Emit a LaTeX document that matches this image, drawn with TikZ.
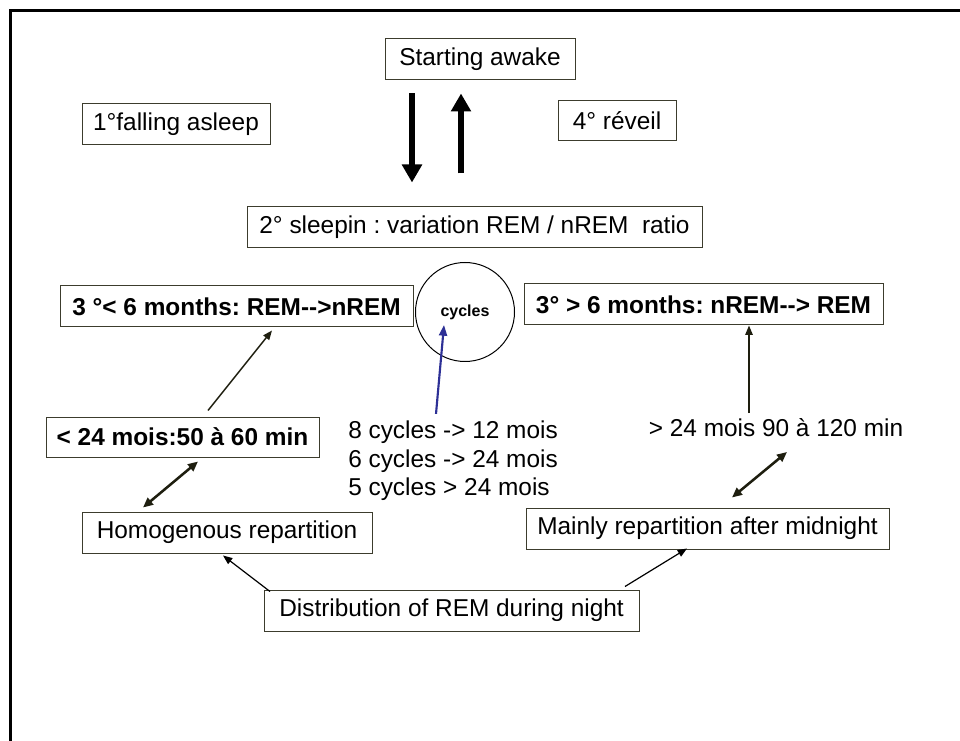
\documentclass[tikz,border=0pt]{standalone}
\usepackage{fontspec}
\setmainfont{Liberation Sans}[Ligatures=TeXOff]
\usetikzlibrary{arrows.meta,calc}
\definecolor{boxline}{RGB}{60,60,45}
\definecolor{arrowdark}{RGB}{30,30,15}
\definecolor{cycblue}{RGB}{45,48,150}
\frenchspacing
\begin{document}
\begin{tikzpicture}[x=0.75pt,y=-0.75pt,
  txt/.style={font=\fontsize{18.3}{21.4}\selectfont, text=black},
  bx/.style={txt, draw=boxline, line width=0.75pt, fill=white, inner sep=0pt, minimum height=30.75pt},
  bbx/.style={bx, font=\fontsize{18.3}{21.4}\selectfont\bfseries},
  bigarrow/.style={line width=5pt, black, -{Triangle[length=13.5pt,width=14.5pt]}},
  thinarrow/.style={line width=1.1pt, arrowdark, -{Triangle[length=7pt,width=5.5pt]}},
  blackarrow/.style={line width=0.9pt, black, -{Triangle[length=7pt,width=5.5pt]}},
  duoarrow/.style={line width=1.9pt, arrowdark, {Triangle[length=7.5pt,width=6.5pt]}-{Triangle[length=7.5pt,width=6.5pt]}},
  bluearrow/.style={line width=1.6pt, cycblue, -{Triangle[length=8pt,width=6pt]}}
]
\useasboundingbox (0,0) rectangle (960,741);
\fill[white] (0,0) rectangle (960,741);
% frame
\draw[line width=2.25pt, black] (960,10.5) -- (10.5,10.5) -- (10.5,741);

% nodes
\node[bx, minimum width=142.5pt] (awake) at (480,59.5) {Starting awake};
\node[bx, minimum width=141pt] (fall) at (176,124.5) {1°falling asleep};
\node[bx, minimum width=88.5pt, minimum height=30pt] (reveil) at (617,121) {4° réveil};
\node[bx, minimum width=341.25pt] (sleep) at (474.5,227.5) {2° sleepin : variation REM / nREM\ \ ratio};
\node[bbx, minimum width=264.75pt] (lt6) at (236.5,306.5) {3 °< 6 months: REM-->nREM};
\node[bbx, minimum width=269.25pt] (gt6) at (703.5,304.5) {3° > 6 months: nREM--> REM};
\node[draw=black, line width=0.75pt, circle, minimum size=74.25pt, inner sep=0pt,
      font=\fontsize{12}{14}\selectfont\bfseries] (circ) at (465,312) {cycles};
\node[bbx, minimum width=204.75pt, minimum height=30pt] (lt24) at (182.5,437) {< 24 mois:50 à 60 min};
\node[txt, anchor=west, align=left, inner sep=0pt] (cyctext) at (348,461)
  {8 cycles -> 12 mois\\6 cycles -> 24 mois\\5 cycles > 24 mois};
\node[txt, inner sep=0pt] (gt24) at (776,428) {> 24 mois 90 à 120 min};
\node[bx, minimum width=217.5pt] (homog) at (227,532.5) {Homogenous repartition};
\node[bx, minimum width=272.25pt] (mainly) at (707.5,528.5) {Mainly repartition after midnight};
\node[bx, minimum width=281.25pt] (dist) at (451.5,610.5) {Distribution of REM during night};

% thick arrows between awake and sleep
\draw[bigarrow] ($(awake.south)+(-68,13)$) -- ($(awake.south |- sleep.north)+(-68,-24)$);
\draw[bigarrow] ($(awake.south |- sleep.north)+(-19,-33)$) -- ($(awake.south)+(-19,13)$);

% left branch
\draw[thinarrow] ($(lt24.north)+(25.5,-6)$) -- ($(lt6.south)+(35.5,3)$);
\draw[duoarrow] ($(lt24.south)+(15.5,4)$) -- ($(homog.north)+(-84,-4)$);

% cycles
\draw[bluearrow] ($(cyctext.north west)+(88,-7)$) -- ($(circ.center)+(-21,13)$);

% right branch
\draw[thinarrow] ($(gt24.center)+(-27,-15)$) -- ($(gt6.south)+(45.5,0)$);
\draw[duoarrow] ($(gt24.center)+(11,24)$) -- ($(mainly.north)+(24.5,-10)$);

% distribution
\draw[blackarrow] ($(dist.north)+(-181.5,2)$) -- ($(homog.south)+(-4,2)$);
\draw[blackarrow] ($(dist.north)+(173.5,-3)$) -- ($(mainly.south)+(-20.5,-1)$);
\end{tikzpicture}
\end{document}
